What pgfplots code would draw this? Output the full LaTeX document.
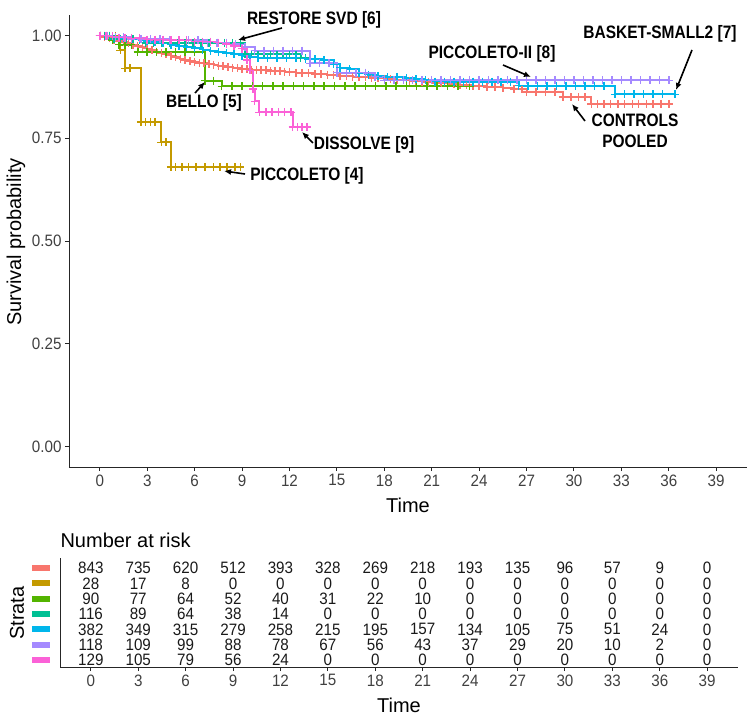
\documentclass[border=0pt]{standalone}
\usepackage{pgfplots}
\pgfplotsset{compat=1.18}
\usepackage{fontspec}
\setmainfont{Liberation Sans}
\newfontfamily\annfont{Liberation Sans}[FakeStretch=0.86]
\newfontfamily\numfont{Liberation Sans}[FakeStretch=0.92]
\usetikzlibrary{arrows.meta}

\definecolor{cA}{HTML}{F8766D}
\definecolor{cB}{HTML}{C49A00}
\definecolor{cC}{HTML}{53B400}
\definecolor{cD}{HTML}{00C094}
\definecolor{cE}{HTML}{00B6EB}
\definecolor{cF}{HTML}{A58AFF}
\definecolor{cG}{HTML}{FB61D7}

% Kaplan-Meier steps; every listed point also carries a censoring mark
\pgfplotstableread{
t S
0 1
0.3 0.997
0.6 0.994
0.9 0.990
1.2 0.987
1.5 0.984
1.8 0.981
2.1 0.978
2.4 0.974
2.7 0.971
3.0 0.968
3.3 0.965
3.6 0.961
3.9 0.958
4.2 0.954
4.5 0.951
4.8 0.948
5.1 0.944
5.4 0.941
5.7 0.938
6.0 0.935
6.3 0.933
6.6 0.932
6.9 0.930
7.2 0.929
7.5 0.927
7.8 0.925
8.1 0.924
8.4 0.922
8.7 0.921
9.0 0.919
9.3 0.918
9.6 0.917
9.9 0.917
10.2 0.916
10.5 0.915
10.8 0.914
11.1 0.913
11.4 0.913
11.7 0.912
12.0 0.911
12.4 0.910
12.8 0.909
13.2 0.908
13.6 0.907
14.0 0.906
14.4 0.905
14.8 0.904
15.2 0.902
15.6 0.901
16.0 0.900
16.4 0.899
16.8 0.898
17.2 0.897
17.6 0.896
18.0 0.895
18.4 0.894
18.8 0.893
19.2 0.891
19.6 0.890
20.0 0.889
20.4 0.888
20.8 0.887
21.2 0.885
21.6 0.884
22.0 0.883
22.4 0.881
22.8 0.880
23.2 0.879
23.6 0.877
24.0 0.876
24.5 0.875
25.0 0.874
25.5 0.873
26.2 0.869
26.7 0.869
27.0 0.862
27.6 0.862
28.2 0.862
28.8 0.862
29.3 0.850
29.8 0.850
30.3 0.850
30.7 0.850
31.1 0.834
31.5 0.834
31.9 0.834
32.3 0.834
32.8 0.834
33.2 0.834
33.7 0.834
34.1 0.834
34.6 0.834
35.0 0.834
35.5 0.834
36.0 0.834
}\controls

\pgfplotstableread{
t S
0 1
0.3 1
0.6 1
1.0 1
1.3 0.964
1.6 0.920
1.9 0.920
2.6 0.790
2.9 0.790
3.2 0.790
3.5 0.790
3.9 0.740
4.2 0.740
4.5 0.680
4.8 0.680
5.2 0.680
5.6 0.680
6.1 0.680
6.65 0.680
7.2 0.680
7.6 0.680
8.05 0.680
8.55 0.680
8.9 0.680
}\piccoleto

\pgfplotstableread{
t S
0 1
0.4 1
0.8 0.989
1.2 0.978
1.6 0.978
2.0 0.978
2.4 0.960
3.0 0.960
3.6 0.960
4.2 0.960
4.8 0.960
5.4 0.960
6.0 0.960
6.65 0.890
7.2 0.890
7.7 0.876
8.35 0.876
9.0 0.876
9.65 0.876
10.3 0.876
10.95 0.876
11.6 0.876
12.25 0.876
12.9 0.876
13.55 0.876
14.2 0.876
14.85 0.876
15.5 0.876
16.15 0.876
16.8 0.876
17.45 0.876
18.1 0.876
18.75 0.876
19.4 0.876
20.05 0.876
20.7 0.876
21.35 0.876
22.0 0.876
22.65 0.876
23.4 0.876
}\bello

\pgfplotstableread{
t S
0 1
0.3 1
0.6 1
0.9 0.991
1.3 0.991
1.7 0.991
2.1 0.991
2.5 0.991
2.9 0.982
3.4 0.982
3.9 0.982
4.4 0.982
4.9 0.982
5.4 0.982
5.9 0.982
6.4 0.982
6.9 0.982
7.4 0.982
7.9 0.982
8.4 0.982
8.9 0.982
9.2 0.955
9.6 0.955
10.0 0.955
10.4 0.955
10.8 0.955
11.2 0.955
11.6 0.955
12.0 0.955
12.4 0.955
12.7 0.945
13.0 0.945
}\restore

\pgfplotstableread{
t S
0 1
0.5 0.998
1.0 0.996
1.5 0.994
2.0 0.992
2.5 0.990
3.0 0.987
3.5 0.984
4.0 0.981
4.5 0.978
5.0 0.975
5.5 0.972
6.0 0.969
6.5 0.966
7.0 0.963
7.5 0.960
8.0 0.957
8.5 0.954
9.0 0.951
9.5 0.948
10.0 0.946
10.6 0.946
11.2 0.946
11.8 0.946
12.4 0.946
13.0 0.944
13.6 0.942
14.2 0.940
14.8 0.930
15.2 0.922
15.8 0.918
16.4 0.908
17.0 0.905
17.6 0.902
18.2 0.898
18.8 0.898
19.4 0.896
20.0 0.894
20.6 0.892
21.2 0.888
21.8 0.888
22.4 0.888
23.0 0.888
23.6 0.888
24.2 0.888
24.8 0.888
25.4 0.888
26.0 0.888
26.5 0.878
27.1 0.878
27.7 0.878
28.3 0.878
28.9 0.878
29.5 0.878
30.1 0.878
30.7 0.878
31.3 0.878
31.9 0.878
32.6 0.857
33.2 0.857
33.8 0.857
34.4 0.857
35.0 0.857
35.6 0.857
36.4 0.857
}\basket

\pgfplotstableread{
t S
0 1
0.5 1
1.0 0.996
1.5 0.996
2.0 0.992
2.6 0.992
3.2 0.992
3.8 0.992
4.4 0.988
5.0 0.988
5.6 0.988
6.2 0.988
6.8 0.983
7.4 0.983
8.0 0.983
8.6 0.979
9.2 0.972
9.8 0.963
10.4 0.963
11.0 0.963
11.6 0.963
12.2 0.963
12.8 0.963
13.3 0.932
13.9 0.932
14.5 0.932
15.0 0.910
15.6 0.910
16.2 0.910
16.8 0.910
17.4 0.900
18.0 0.891
18.6 0.891
19.2 0.891
19.8 0.891
20.4 0.891
21.0 0.891
21.6 0.891
22.2 0.891
22.8 0.891
23.4 0.891
24.0 0.891
24.6 0.891
25.2 0.891
25.8 0.891
26.4 0.891
27.0 0.891
27.6 0.891
28.2 0.891
28.8 0.891
29.4 0.891
30.0 0.891
30.6 0.891
31.2 0.891
31.8 0.891
32.4 0.891
33.0 0.891
33.6 0.891
34.2 0.891
34.8 0.891
35.4 0.891
36.0 0.891
}\piccoletoii

\pgfplotstableread{
t S
0 1
0.4 1
0.8 0.998
1.2 0.995
1.6 0.995
2.0 0.993
2.5 0.993
3.0 0.990
3.5 0.990
4.0 0.990
4.5 0.988
5.0 0.988
5.5 0.988
6.0 0.985
6.5 0.985
7.0 0.985
7.5 0.983
8.0 0.980
8.5 0.975
9.0 0.968
9.3 0.940
9.5 0.915
9.7 0.870
9.8 0.840
10.1 0.813
10.5 0.813
10.9 0.813
11.3 0.813
11.7 0.813
12.1 0.813
12.2 0.777
12.5 0.777
12.8 0.777
13.1 0.777
}\dissolve

\pgfplotsset{
  km/.style={const plot, line width=2pt, color=#1,
    mark=+, mark size=4pt, mark options={solid, line width=1.5pt}},
}

\newcommand{\tickfont}{\numfont\fontsize{16.5}{19}\selectfont}
\newcommand{\titlefont}{\fontsize{20}{24}\selectfont}
\newcommand{\annsize}{\annfont\bfseries\fontsize{18}{20.5}\selectfont}

\begin{document}
\begin{tikzpicture}
\useasboundingbox (0pt,0pt) rectangle (750pt,721pt);

% survival curves
\begin{axis}[
  at={(69pt,254pt)}, anchor=south west,
  width=678pt, height=452pt, scale only axis,
  xmin=-1.95, xmax=40.95, ymin=-0.05, ymax=1.05,
  axis lines=left,
  axis line style={-, line width=0.9pt, black!85},
  xtick={0,3,...,39},
  ytick={0,0.25,0.5,0.75,1},
  yticklabels={0.00,0.25,0.50,0.75,1.00},
  tick align=outside, major tick length=4pt,
  tick style={line width=0.9pt, black!85},
  ticklabel style={font=\tickfont, text=black!75},
  /pgf/number format/assume math mode=true,
]
\addplot[km=cA] table {\controls};
\addplot[km=cB] table {\piccoleto};
\addplot[km=cC] table {\bello};
\addplot[km=cD] table {\restore};
\addplot[km=cE] table {\basket};
\addplot[km=cF] table {\piccoletoii};
\addplot[km=cG] table {\dissolve};
\end{axis}

% number at risk table
\begin{axis}[
  at={(60pt,54pt)}, anchor=south west,
  width=678pt, height=109pt, scale only axis,
  xmin=-1.95, xmax=40.95, ymin=0.55, ymax=7.65,
  axis lines=left,
  axis line style={-, line width=0.9pt, black!85},
  xtick={0,3,...,39},
  ytick={1,...,7},
  yticklabels={
    \textcolor{cG}{\rule[-3pt]{18pt}{6pt}},
    \textcolor{cF}{\rule[-3pt]{18pt}{6pt}},
    \textcolor{cE}{\rule[-3pt]{18pt}{6pt}},
    \textcolor{cD}{\rule[-3pt]{18pt}{6pt}},
    \textcolor{cC}{\rule[-3pt]{18pt}{6pt}},
    \textcolor{cB}{\rule[-3pt]{18pt}{6pt}},
    \textcolor{cA}{\rule[-3pt]{18pt}{6pt}}},
  y tick style={draw=none},
  yticklabel style={inner sep=0pt, xshift=-6pt},
  tick align=outside, major tick length=4pt,
  x tick style={line width=0.9pt, black!85},
  xticklabel style={font=\tickfont, text=black!75},
  /pgf/number format/assume math mode=true,
  clip=false,
  every node near coord/.append style={anchor=center, font=\tickfont, text=black!90, inner sep=0pt},
]
\addplot[draw=none, mark=none, nodes near coords, point meta=explicit symbolic] coordinates {
 (0,7)[843] (3,7)[735] (6,7)[620] (9,7)[512] (12,7)[393] (15,7)[328] (18,7)[269]
 (21,7)[218] (24,7)[193] (27,7)[135] (30,7)[96] (33,7)[57] (36,7)[9] (39,7)[0]
 (0,6)[28] (3,6)[17] (6,6)[8] (9,6)[0] (12,6)[0] (15,6)[0] (18,6)[0]
 (21,6)[0] (24,6)[0] (27,6)[0] (30,6)[0] (33,6)[0] (36,6)[0] (39,6)[0]
 (0,5)[90] (3,5)[77] (6,5)[64] (9,5)[52] (12,5)[40] (15,5)[31] (18,5)[22]
 (21,5)[10] (24,5)[0] (27,5)[0] (30,5)[0] (33,5)[0] (36,5)[0] (39,5)[0]
 (0,4)[116] (3,4)[89] (6,4)[64] (9,4)[38] (12,4)[14] (15,4)[0] (18,4)[0]
 (21,4)[0] (24,4)[0] (27,4)[0] (30,4)[0] (33,4)[0] (36,4)[0] (39,4)[0]
 (0,3)[382] (3,3)[349] (6,3)[315] (9,3)[279] (12,3)[258] (15,3)[215] (18,3)[195]
 (21,3)[157] (24,3)[134] (27,3)[105] (30,3)[75] (33,3)[51] (36,3)[24] (39,3)[0]
 (0,2)[118] (3,2)[109] (6,2)[99] (9,2)[88] (12,2)[78] (15,2)[67] (18,2)[56]
 (21,2)[43] (24,2)[37] (27,2)[29] (30,2)[20] (33,2)[10] (36,2)[2] (39,2)[0]
 (0,1)[129] (3,1)[105] (6,1)[79] (9,1)[56] (12,1)[24] (15,1)[0] (18,1)[0]
 (21,1)[0] (24,1)[0] (27,1)[0] (30,1)[0] (33,1)[0] (36,1)[0] (39,1)[0]
};
\end{axis}

% axis titles
\node[rotate=90, font=\titlefont] at (16pt,479pt) {Survival probability};
\node[font=\titlefont] at (408pt,216pt) {Time};
\node[font=\titlefont, anchor=west] at (57pt,181pt) {Number at risk};
\node[rotate=90, font=\titlefont] at (17pt,108pt) {Strata};
\node[font=\titlefont] at (399pt,16pt) {Time};

% study annotations
\begin{scope}[line width=1.6pt, -{Latex[length=7pt,width=6pt]}]
\draw (282pt,693pt) -- (238pt,681pt);
\draw (195pt,628pt) -- (205pt,639pt);
\draw (313pt,578pt) -- (302pt,589pt);
\draw (245pt,547pt) -- (224pt,550pt);
\draw (503pt,656pt) -- (531pt,644pt);
\draw (692pt,671pt) -- (676pt,631pt);
\draw (585pt,600pt) -- (572pt,617pt);
\end{scope}
\node[font=\annsize] at (314pt,701pt) {RESTORE SVD [6]};
\node[font=\annsize] at (204pt,618pt) {BELLO [5]};
\node[font=\annsize] at (364pt,576pt) {DISSOLVE [9]};
\node[font=\annsize] at (307pt,545pt) {PICCOLETO [4]};
\node[font=\annsize] at (492pt,667pt) {PICCOLETO-II [8]};
\node[font=\annsize] at (660pt,687pt) {BASKET-SMALL2 [7]};
\node[font=\annsize, align=center] at (635pt,590pt) {CONTROLS\\POOLED};
\end{tikzpicture}
\end{document}
